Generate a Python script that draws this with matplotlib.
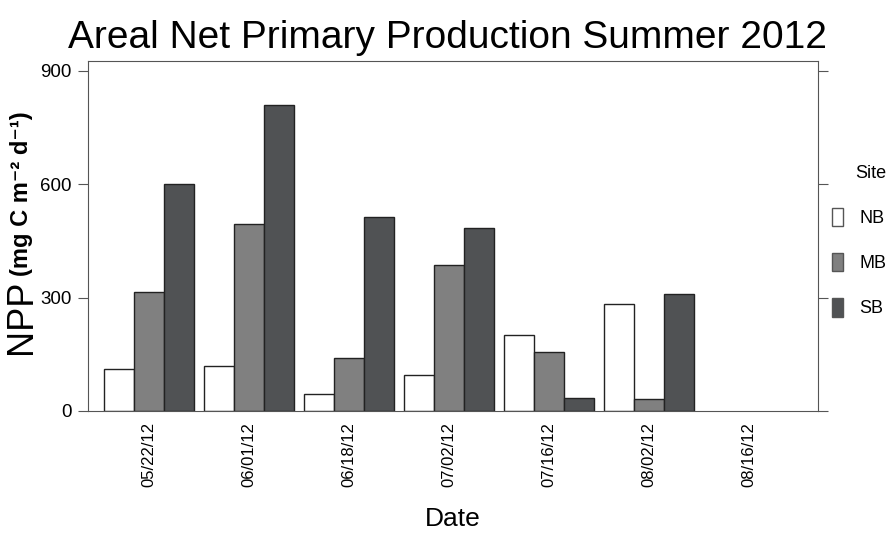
import numpy as np
from matplotlib import pyplot as plt
from matplotlib.patches import Patch

plt.rcParams['font.family'] = ['Liberation Sans', 'DejaVu Sans']

dates = ['05/22/12', '06/01/12', '06/18/12', '07/02/12', '07/16/12', '08/02/12', '08/16/12']
sites = ['NB', 'MB', 'SB']
nb = [112, 120, 46, 95, 201, 284, np.nan]
mb = [314, 496, 141, 387, 156, 31, np.nan]
sb = [600, 809, 514, 483, 34, 309, np.nan]
colors = ['white', '#808080', '#505254']

fig = plt.figure(figsize=(8.94, 5.35), dpi=100)
ax = fig.add_axes([0.0984, 0.2318, 0.8166, 0.6542])

x = np.arange(len(dates))
width = 0.297
for i, (vals, col) in enumerate(zip([nb, mb, sb], colors)):
    ax.bar(x + (i - 1) * width, vals, width, color=col, edgecolor='#222222', linewidth=1)

ax.set_xlim(-0.61, 6.69)
ax.set_ylim(0, 926)
ax.set_yticks([0, 300, 600, 900])
ax.set_xticks(x)
ax.set_xticklabels(dates, rotation=90, fontsize=12)
ax.tick_params(axis='y', labelsize=13.5, right=True, direction='out', length=7, pad=5, color='#555555')
ax.tick_params(axis='x', length=0, pad=8)
for s in ax.spines.values():
    s.set_color('#555555')

fig.text(0.5, 0.910, 'Areal Net Primary Production Summer 2012', fontsize=28, ha='center', va='baseline')
ax.set_xlabel('Date', fontsize=19, labelpad=14)
fig.text(0.0235, 0.4075, 'NPP', rotation=90, fontsize=26, ha='center', va='center')
fig.text(0.0235, 0.638, '(mg C m⁻² d⁻¹)', rotation=90, fontsize=17, fontweight='bold', ha='center', va='center')

handles = [Patch(facecolor=c, edgecolor='#555555') for c in colors]
leg = ax.legend(handles, sites, title='Site', loc='upper left', bbox_to_anchor=(0.913, 0.722),
                bbox_transform=fig.transFigure, frameon=False, fontsize=13, title_fontsize=13,
                handlelength=0.6, handleheight=1.2, labelspacing=1.43, handletextpad=0.9)
leg._legend_box.align = 'right'

plt.savefig('out.png', dpi=100)
